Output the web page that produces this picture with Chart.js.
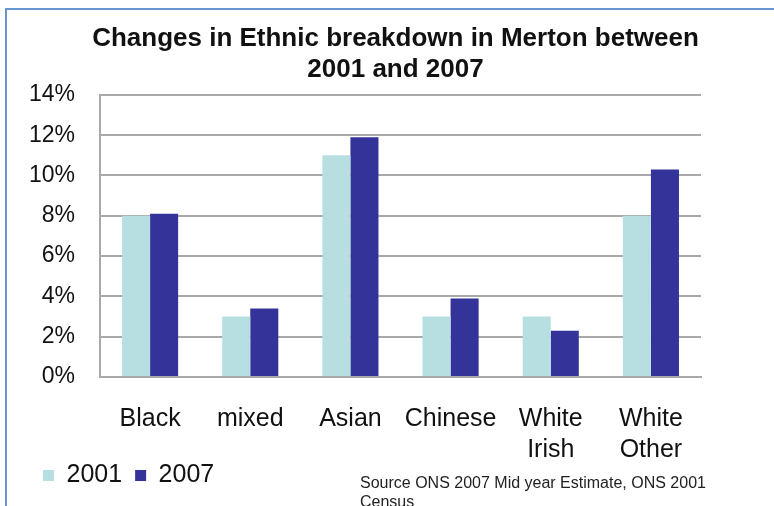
<!DOCTYPE html>
<html lang="en">
<head>
  <meta charset="UTF-8" />
  <title>Ethnic breakdown in Merton</title>
  <script src="https://cdn.jsdelivr.net/npm/chart.js"></script>
  <style>
    html, body { margin: 0; padding: 0; background: #fff; overflow: hidden; }
    #wrap { position: relative; width: 774px; height: 506px; }
    /* blue frame round the slide */
    #frame {
      position: absolute; left: 5px; top: 8px; width: 900px; height: 600px;
      border-left: 2px solid #6895cf; border-top: 2px solid #6895cf;
    }
    #note {
      position: absolute; left: 360px; top: 474px; width: 380px;
      font: 16px 'Liberation Sans', Arial, sans-serif; line-height: 18.5px; color: #222;
    }
    #box { position: absolute; left: 0; top: 0; width: 774px; height: 506px; }
  </style>
</head>
<body>
  <div id="wrap">
    <div id="frame"></div>
    <div id="box"><canvas id="chart"></canvas></div>
    <div id="note">Source ONS 2007 Mid year Estimate, ONS 2001 Census</div>
  </div>

  <script>
    const categories = ['Black', 'mixed', 'Asian', 'Chinese', ['White', 'Irish'], ['White', 'Other']];
    const share2001 = [8.0, 3.0, 11.0, 3.0, 3.0, 8.0];
    const share2007 = [8.1, 3.4, 11.9, 3.9, 2.3, 10.3];
    const yTicks = [0, 2, 4, 6, 8, 10, 12, 14];

    Chart.defaults.font.family = "'Liberation Sans', Arial, sans-serif";
    Chart.defaults.color = '#111';

    const gridGrey = '#a9a9a9';

    // the legend sits beside the two-line category labels, so pull it up
    // into the free space left of them once the layout is done
    const legendLift = {
      id: 'legendLift',
      afterLayout(chart) {
        const lg = chart.legend;
        const lift = 22;
        lg.top -= lift;
        lg.bottom -= lift;
      }
    };

    new Chart(document.getElementById('chart'), {
      type: 'bar',
      data: {
        labels: categories,
        datasets: [
          { label: '2001', data: share2001, backgroundColor: '#b7dfe1', yAxisID: 'y' },
          { label: '2007', data: share2007, backgroundColor: '#333399', yAxisID: 'y' }
        ]
      },
      plugins: [legendLift],
      options: {
        responsive: true,
        maintainAspectRatio: false,
        animation: false,
        categoryPercentage: 0.56,
        barPercentage: 1.0,
        layout: { padding: { left: 30, right: 13, top: 0, bottom: -14 } },
        plugins: {
          title: {
            display: true,
            text: ['Changes in Ethnic breakdown in Merton between', '2001 and 2007'],
            color: '#111',
            font: { size: 26, weight: 'bold', lineHeight: 1.19 },
            padding: { top: 23, bottom: 10 }
          },
          legend: {
            position: 'bottom',
            align: 'start',
            labels: {
              boxWidth: 11,
              boxHeight: 11,
              padding: 13,
              color: '#111',
              font: { size: 25 }
            }
          },
          tooltip: { enabled: false }
        },
        scales: {
          x: {
            grid: { display: false, drawTicks: false },
            border: { display: true, color: gridGrey, width: 2 },
            ticks: {
              padding: 26,
              maxRotation: 0,
              autoSkip: false,
              font: { size: 25, lineHeight: 1.26 }
            },
            afterFit: s => { s.height = 95; }
          },
          y: {
            min: 0,
            max: 14,
            afterBuildTicks: s => { s.ticks = yTicks.map(v => ({ value: v })); },
            grid: { color: gridGrey, lineWidth: 2, drawTicks: false },
            border: { display: true, color: gridGrey, width: 2 },
            ticks: {
              padding: 25,
              font: { size: 23 },
              callback: v => v + '%'
            },
            afterFit: s => { s.width = 70; }
          },
          // empty right-hand axis that only reserves the space right of the plot
          y2: {
            position: 'right',
            grid: { display: false },
            border: { display: false },
            ticks: { display: false },
            afterFit: s => { s.width = 60; }
          }
        }
      }
    });
  </script>
</body>
</html>
